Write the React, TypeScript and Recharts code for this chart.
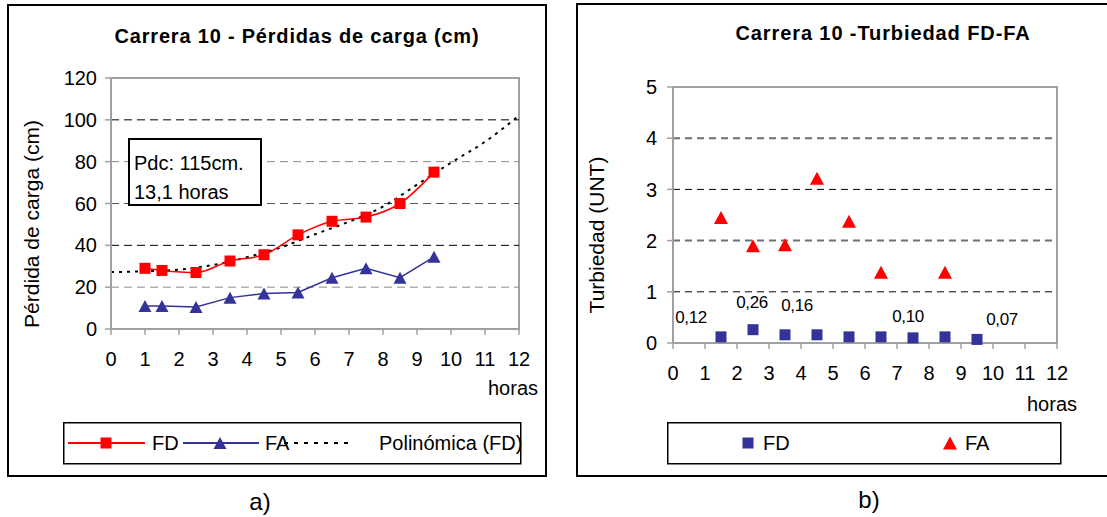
import React from 'react';
import {
  ComposedChart,
  Line,
  ReferenceArea,
  ReferenceLine,
  Scatter,
  ScatterChart,
  XAxis,
  YAxis,
} from 'recharts';

// a) pérdidas de carga
const hours = [1, 1.5, 2.5, 3.5, 4.5, 5.5, 6.5, 7.5, 8.5, 9.5];
const fdLoss = [29, 28, 27, 32.5, 35.5, 45, 51.5, 53.5, 60, 75];
const faLoss = [11, 11, 10.5, 15, 17, 17.5, 24.5, 29, 24.5, 34.5];
const trendHours = [0, 1, 2, 3, 4, 5, 6, 7, 8, 9, 10, 11, 12];
const trendLoss = [27.2, 27.6, 28.4, 30.6, 34.3, 39, 45.3, 51.3, 58.5, 69, 79.5, 89.5, 102];

// b) turbiedad
const turbHours = [1.5, 2.5, 3.5, 4.5, 5.5, 6.5, 7.5, 8.5, 9.5];
const fdTurb = [0.12, 0.26, 0.16, 0.16, 0.12, 0.12, 0.1, 0.12, 0.07];
const fdTurbLabels = ['0,12', '0,26', '0,16', '', '', '', '0,10', '', '0,07'];
const faTurbHours = [1.5, 2.5, 3.5, 4.5, 5.5, 6.5, 8.5];
const faTurb = [2.45, 1.9, 1.92, 3.22, 2.38, 1.38, 1.38];

const hourTicks = [0, 1, 2, 3, 4, 5, 6, 7, 8, 9, 10, 11, 12];
const lossTicks = [0, 20, 40, 60, 80, 100, 120];
const turbTicks = [0, 1, 2, 3, 4, 5];

const fdLossData = hours.map((x, i) => ({ x, y: fdLoss[i] }));
const faLossData = hours.map((x, i) => ({ x, y: faLoss[i] }));
const trendData = trendHours.map((x, i) => ({ x, y: trendLoss[i] }));
const fdTurbData = turbHours.map((x, i) => ({ x, y: fdTurb[i], label: fdTurbLabels[i], i }));
const faTurbData = faTurbHours.map((x, i) => ({ x, y: faTurb[i] }));

const FONT = '"Liberation Sans", Arial, Helvetica, sans-serif';
const RED = '#ff0000';
const NAVY = '#333399';
const FRAME = '#a0a0a0';

// dashed gridline tones (the scan renders them unevenly)
const lossGridTone: Record<number, [string, number]> = {
  20: ['#8a8a8a', 1],
  40: ['#000', 1],
  60: ['#555', 1],
  80: ['#8a8a8a', 1],
  100: ['#000', 1],
};
const turbGridTone: Record<number, [string, number]> = {
  1: ['#000', 1],
  2: ['#6e6e6e', 2],
  3: ['#000', 1],
  4: ['#6e6e6e', 2],
};
// where the hand-placed value boxes sit relative to their point
const turbLabelShift: Record<number, [number, number]> = {
  0: [-30, -19],
  1: [-1, -27],
  2: [12, -29],
  6: [-5, -21],
  8: [25, -20],
};

const tickStyle = { fill: '#000', fontSize: 20, fontFamily: FONT };

function Square({ cx, cy, fill, size = 11 }: any) {
  return <rect x={cx - size / 2} y={cy - size / 2} width={size} height={size} fill={fill} />;
}

function Triangle({ cx, cy, fill, w = 13, h = 12 }: any) {
  return (
    <polygon
      points={`${cx},${cy - h / 2} ${cx + w / 2},${cy + h / 2} ${cx - w / 2},${cy + h / 2}`}
      fill={fill}
    />
  );
}

function Txt({ x, y, size = 20, bold = false, rotate = false, spacing = 0, children }: any) {
  return (
    <div
      style={{
        position: 'absolute',
        left: x,
        top: y,
        transform: `translate(-50%, -50%)${rotate ? ' rotate(-90deg)' : ''}`,
        fontSize: size,
        fontWeight: bold ? 700 : 400,
        letterSpacing: spacing,
        whiteSpace: 'nowrap',
        lineHeight: 1,
        color: '#000',
      }}
    >
      {children}
    </div>
  );
}

function LossChart() {
  return (
    <div style={{ position: 'absolute', left: 0, top: 0 }}>
      <ComposedChart width={560} height={517} margin={{ top: 78, right: 41, bottom: 158, left: 51 }}>
        <XAxis
          type="number"
          dataKey="x"
          domain={[0, 12]}
          ticks={hourTicks}
          interval={0}
          axisLine={{ stroke: FRAME, strokeWidth: 2 }}
          tickLine={{ stroke: FRAME, strokeWidth: 1.5 }}
          tickSize={6}
          tickMargin={17}
          tick={tickStyle}
        />
        <YAxis
          type="number"
          domain={[0, 120]}
          ticks={lossTicks}
          interval={0}
          width={60}
          axisLine={{ stroke: FRAME, strokeWidth: 2 }}
          tickLine={{ stroke: FRAME, strokeWidth: 1.5 }}
          tickSize={6}
          tickMargin={8}
          tick={tickStyle}
        />
        {lossTicks
          .filter((v) => lossGridTone[v])
          .map((v) => (
            <ReferenceLine
              key={v}
              y={v}
              stroke={lossGridTone[v][0]}
              strokeWidth={lossGridTone[v][1]}
              strokeDasharray="8 5"
            />
          ))}
        <ReferenceArea x1={0} x2={12} y1={0} y2={120} fill="none" stroke={FRAME} strokeWidth={2} />
        <Line
          data={trendData}
          dataKey="y"
          type="monotone"
          stroke="#000"
          strokeWidth={2}
          strokeDasharray="3 5"
          dot={false}
          isAnimationActive={false}
        />
        <Line
          data={faLossData}
          dataKey="y"
          type="linear"
          stroke={NAVY}
          strokeWidth={1.5}
          dot={(p: any) => <Triangle key={`fa-${p.index}`} cx={p.cx} cy={p.cy} fill={NAVY} w={13} h={12} />}
          isAnimationActive={false}
        />
        <Line
          data={fdLossData}
          dataKey="y"
          type="monotone"
          stroke={RED}
          strokeWidth={1.5}
          dot={(p: any) => <Square key={`fd-${p.index}`} cx={p.cx} cy={p.cy} fill={RED} size={11} />}
          isAnimationActive={false}
        />
      </ComposedChart>
    </div>
  );
}

function TurbPoint(p: any) {
  const d = p.payload ?? p;
  const shift = turbLabelShift[d.i];
  return (
    <g>
      <Square cx={p.cx} cy={p.cy} fill={NAVY} size={11} />
      {d.label && shift ? (
        <text
          x={p.cx + shift[0]}
          y={p.cy + shift[1]}
          textAnchor="middle"
          dominantBaseline="central"
          fontSize={17}
          letterSpacing={-0.4}
          fontFamily={FONT}
          fill="#000"
        >
          {d.label}
        </text>
      ) : null}
    </g>
  );
}

function TurbChart() {
  return (
    <div style={{ position: 'absolute', left: 560, top: 0 }}>
      <ScatterChart width={547} height={517} margin={{ top: 87, right: 50, bottom: 144, left: 53 }}>
        <XAxis
          type="number"
          dataKey="x"
          domain={[0, 12]}
          ticks={hourTicks}
          interval={0}
          axisLine={{ stroke: FRAME, strokeWidth: 2 }}
          tickLine={{ stroke: FRAME, strokeWidth: 1.5 }}
          tickSize={6}
          tickMargin={17}
          tick={tickStyle}
        />
        <YAxis
          type="number"
          dataKey="y"
          domain={[0, 5]}
          ticks={turbTicks}
          interval={0}
          width={60}
          axisLine={{ stroke: FRAME, strokeWidth: 2 }}
          tickLine={{ stroke: FRAME, strokeWidth: 1.5 }}
          tickSize={6}
          tickMargin={10}
          tick={tickStyle}
        />
        {turbTicks
          .filter((v) => turbGridTone[v])
          .map((v) => (
            <ReferenceLine
              key={v}
              y={v}
              stroke={turbGridTone[v][0]}
              strokeWidth={turbGridTone[v][1]}
              strokeDasharray="7 5"
            />
          ))}
        <ReferenceArea x1={0} x2={12} y1={0} y2={5} fill="none" stroke={FRAME} strokeWidth={2} />
        <Scatter data={fdTurbData} shape={TurbPoint} isAnimationActive={false} />
        <Scatter
          data={faTurbData}
          shape={(p: any) => <Triangle cx={p.cx} cy={p.cy} fill={RED} w={14} h={13} />}
          isAnimationActive={false}
        />
      </ScatterChart>
    </div>
  );
}

function LossLegend() {
  return (
    <svg style={{ position: 'absolute', left: 63, top: 422 }} width={459} height={43}>
      <rect x={0.75} y={0.75} width={457} height={41} fill="#fff" stroke="#000" strokeWidth={1.5} />
      <line x1={5} x2={82} y1={21} y2={21} stroke={RED} strokeWidth={2} />
      <Square cx={43} cy={21} fill={RED} size={11} />
      <text x={89} y={21} dominantBaseline="central" fontSize={20} fontFamily={FONT}>FD</text>
      <line x1={120} x2={196} y1={21} y2={21} stroke={NAVY} strokeWidth={2} />
      <Triangle cx={157} cy={21} fill={NAVY} w={13} h={12} />
      <text x={202} y={21} dominantBaseline="central" fontSize={20} fontFamily={FONT}>FA</text>
      <line x1={221} x2={290} y1={21} y2={21} stroke="#000" strokeWidth={2} strokeDasharray="4 6" />
      <text x={316} y={21} dominantBaseline="central" fontSize={20} fontFamily={FONT}>Polinómica (FD)</text>
    </svg>
  );
}

function TurbLegend() {
  return (
    <svg style={{ position: 'absolute', left: 667, top: 422 }} width={395} height={43}>
      <rect x={0.75} y={0.75} width={393} height={41} fill="#fff" stroke="#000" strokeWidth={1.5} />
      <Square cx={81} cy={21} fill={NAVY} size={11} />
      <text x={96} y={21} dominantBaseline="central" fontSize={20} fontFamily={FONT}>FD</text>
      <Triangle cx={283} cy={21} fill={RED} w={14} h={13} />
      <text x={298} y={21} dominantBaseline="central" fontSize={20} fontFamily={FONT}>FA</text>
    </svg>
  );
}

export default function App() {
  return (
    <div
      style={{
        position: 'absolute',
        left: 0,
        top: 0,
        width: 1107,
        height: 517,
        overflow: 'hidden',
        background: '#fff',
        fontFamily: FONT,
      }}
    >
      <div
        style={{
          position: 'absolute',
          left: 7,
          top: 4,
          width: 540,
          height: 473,
          border: '2px solid #000',
          boxSizing: 'border-box',
        }}
      />
      <div
        style={{
          position: 'absolute',
          left: 576,
          top: 3,
          width: 560,
          height: 474,
          border: '2px solid #000',
          boxSizing: 'border-box',
        }}
      />

      <LossChart />
      <TurbChart />

      <Txt x={297} y={36} size={20} bold spacing={0.8}>Carrera 10 - Pérdidas de carga (cm)</Txt>
      <Txt x={31} y={224} size={21} rotate>Pérdida de carga (cm)</Txt>
      <Txt x={513} y={388}>horas</Txt>

      <div
        style={{
          position: 'absolute',
          left: 128,
          top: 138,
          width: 134,
          height: 68,
          border: '2px solid #000',
          boxSizing: 'border-box',
          background: '#fff',
        }}
      />
      <div style={{ position: 'absolute', left: 134, top: 149, fontSize: 20, lineHeight: '29px' }}>
        Pdc: 115cm.
        <br />
        13,1 horas
      </div>

      <Txt x={883} y={33} size={20} bold spacing={0.9}>Carrera 10 -Turbiedad FD-FA</Txt>
      <Txt x={596} y={235} size={21} rotate>Turbiedad (UNT)</Txt>
      <Txt x={1052} y={404}>horas</Txt>

      <LossLegend />
      <TurbLegend />

      <Txt x={260} y={502} size={24}>a)</Txt>
      <Txt x={869} y={500} size={24}>b)</Txt>
    </div>
  );
}
